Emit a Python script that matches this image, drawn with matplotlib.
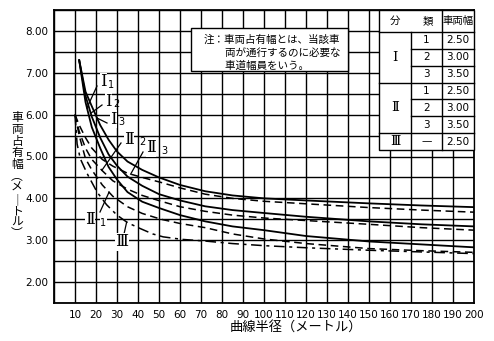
import matplotlib
matplotlib.use("Agg")
import matplotlib.pyplot as plt
from matplotlib.patches import Rectangle
import numpy as np

plt.rcParams['font.family'] = ['Noto Sans CJK JP', 'DejaVu Sans']

# 曲線半径 (m) と 車両占有幅 (m)
r_I = [12, 15, 18, 22, 26, 30, 35, 42, 50, 60, 72, 85, 100, 120, 150, 175, 200]
w_I1 = [7.3, 6.3, 5.7, 5.2, 4.75, 4.45, 4.15, 3.92, 3.77, 3.6, 3.45, 3.33, 3.24, 3.1, 2.97, 2.9, 2.83]
w_I2 = [7.3, 6.45, 5.95, 5.45, 5.05, 4.78, 4.52, 4.3, 4.1, 3.95, 3.81, 3.72, 3.65, 3.56, 3.45, 3.38, 3.33]
w_I3 = [7.3, 6.55, 6.2, 5.75, 5.4, 5.12, 4.88, 4.68, 4.5, 4.32, 4.17, 4.07, 4.0, 3.95, 3.88, 3.83, 3.79]

r_II = [10, 12, 15, 18, 23, 28, 35, 42, 51, 60, 72, 85, 100, 120, 150, 175, 200]
w_II1 = [6.0, 5.5, 4.95, 4.68, 4.32, 4.05, 3.8, 3.64, 3.5, 3.4, 3.3, 3.15, 3.03, 2.92, 2.8, 2.75, 2.71]
w_II2 = [6.0, 5.6, 5.2, 4.93, 4.66, 4.42, 4.22, 4.07, 3.93, 3.8, 3.69, 3.6, 3.53, 3.47, 3.38, 3.3, 3.24]
w_II3 = [6.0, 5.75, 5.45, 5.2, 4.93, 4.77, 4.6, 4.5, 4.38, 4.25, 4.1, 4.0, 3.93, 3.87, 3.78, 3.72, 3.67]

r_III = [10, 11, 12.5, 15.7, 20.5, 25, 30, 35, 41, 47, 52, 61, 72, 85, 100, 120, 150, 175, 200]
w_III = [6.0, 5.3, 4.95, 4.6, 4.15, 3.85, 3.6, 3.42, 3.28, 3.15, 3.08, 3.02, 2.98, 2.92, 2.87, 2.82, 2.76, 2.72, 2.68]

x_ticks = list(range(0, 201, 10))
y_ticks = [1.5 + 0.5 * i for i in range(15)]

table_rows = [("1", "2.50"), ("2", "3.00"), ("3", "3.50"),
              ("1", "2.50"), ("2", "3.00"), ("3", "3.50"), ("—", "2.50")]

W, H = 494, 341
fig = plt.figure(figsize=(W / 100, H / 100), dpi=100)
L, R, T, B = 54, 474, 10, 303
ax = fig.add_axes([L / W, 1 - B / H, (R - L) / W, (B - T) / H])

solid = dict(color="black", lw=1.3, zorder=3)
ax.plot(r_I, w_I1, **solid)
ax.plot(r_I, w_I2, **solid)
ax.plot(r_I, w_I3, **solid)
dash = dict(color="black", lw=1.1, ls=(0, (5, 3)), zorder=3)
ax.plot(r_II, w_II1, **dash)
ax.plot(r_II, w_II2, **dash)
ax.plot(r_II, w_II3, **dash)
ax.plot(r_III, w_III, color="black", lw=1.1, ls=(0, (7, 3, 2, 3)), zorder=3)

ax.set_xlim(0, 200)
ax.set_ylim(1.5, 8.5)
ax.set_xticks(x_ticks)
ax.set_xticklabels([str(v) if v > 0 else "" for v in x_ticks], fontsize=7.5, family="DejaVu Sans")
ax.set_yticks(y_ticks)
ax.set_yticklabels([f"{v:.2f}" if v == int(v) and 2 <= v <= 8 else "" for v in y_ticks],
                   fontsize=7.5, family="DejaVu Sans")
ax.tick_params(length=0)
ax.tick_params(axis="x", pad=5)
ax.tick_params(axis="y", pad=4)
ax.grid(color="black", lw=1.0)
ax.set_axisbelow(True)
for s in ax.spines.values():
    s.set_linewidth(1.3)

# overlay in pixel coordinates for labels, note and table
ov = fig.add_axes([0, 0, 1, 1], facecolor="none")
ov.set_xlim(0, W)
ov.set_ylim(H, 0)
ov.axis("off")

roman = ["DejaVu Serif", "Noto Sans CJK JP"]


def to_px(r, w):
    return L + r / 200 * (R - L), B - (w - 1.5) / 7.0 * (B - T)


def curve_label(num, sub, lx, ly, r_pt, rs, ws):
    px, py = to_px(r_pt, np.interp(r_pt, rs, ws))
    ov.plot([lx - 3, px], [ly + 4, py], color="black", lw=0.9)
    t = ov.text(lx, ly, num, fontsize=12, ha="left", va="center", family=roman)
    t.set_bbox(dict(facecolor="white", edgecolor="none", pad=0.3))
    ov.text(lx + (8 if num == "Ⅰ" else 15), ly + 3, sub, fontsize=7, ha="left",
            va="center", family="DejaVu Sans")


curve_label("Ⅰ", "1", 100, 82, 15.7, r_I, w_I1)
curve_label("Ⅰ", "2", 105, 101, 17.5, r_I, w_I2)
curve_label("Ⅰ", "3", 110, 119, 20.5, r_I, w_I3)
curve_label("Ⅱ", "2", 124, 139, 22.8, r_II, w_II2)
curve_label("Ⅱ", "3", 146, 148, 36.5, r_II, w_II3)

# II1 and III labels below curves
px, py = to_px(26.2, np.interp(26.2, r_II, w_II1))
ov.plot([100, px], [212, py], color="black", lw=0.9)
ov.text(85, 220, "Ⅱ", fontsize=12, ha="left", va="center", family=roman,
        bbox=dict(facecolor="white", edgecolor="none", pad=0.3))
ov.text(100, 223, "1", fontsize=7, ha="left", va="center", family="DejaVu Sans",
        bbox=dict(facecolor="white", edgecolor="none", pad=0.3))
px, py = to_px(34.6, np.interp(34.6, r_III, w_III))
ov.plot([124, px], [234, py], color="black", lw=0.9)
ov.text(122, 242, "Ⅲ", fontsize=12, ha="center", va="center", family=roman,
        bbox=dict(facecolor="white", edgecolor="none", pad=0.3))

# axis titles
ov.text(296, 327, "曲線半径（メートル）", fontsize=9.5, ha="center", va="center")
ylab = ["車", "両", "占", "有", "幅", "︵", "メ", "｜", "ト", "ル", "︶"]
for i, ch in enumerate(ylab):
    ov.text(17, 118 + i * 11.6, ch, fontsize=8.5, ha="center", va="center")

# note box
ov.add_patch(Rectangle((191, 28), 157, 43, facecolor="white", edgecolor="black", lw=1.0, zorder=4))
note = ["注：車両占有幅とは、当該車", "　　両が通行するのに必要な", "　　車道幅員をいう。"]
for i, line in enumerate(note):
    ov.text(204, 40 + i * 13, line, fontsize=7.6, ha="left", va="center", zorder=5)

# table
cx = [379, 411, 442, 474]
ty = [10, 32]
rh = (150 - 32) / 7
ty += [32 + rh * (i + 1) for i in range(7)]
ov.add_patch(Rectangle((cx[0], ty[0]), cx[3] - cx[0], ty[-1] - ty[0], facecolor="white",
                       edgecolor="black", lw=1.0, zorder=4))
lk = dict(color="black", lw=1.0, zorder=5)
ov.plot([cx[0], cx[3]], [ty[1], ty[1]], **lk)
ov.plot([cx[1], cx[1]], [ty[1], ty[-1]], **lk)
ov.plot([cx[2], cx[2]], [ty[0], ty[-1]], **lk)
for i in range(2, 8):
    x0 = cx[0] if i in (4, 7) else cx[1]
    ov.plot([x0, cx[3]], [ty[i], ty[i]], **lk)
ov.text(395, 21, "分", fontsize=7.5, ha="center", va="center", zorder=6)
ov.text(428, 21, "類", fontsize=7.5, ha="center", va="center", zorder=6)
ov.text(458, 21, "車両幅", fontsize=7.5, ha="center", va="center", zorder=6)
ov.text(395, (ty[1] + ty[4]) / 2, "Ⅰ", fontsize=9.5, ha="center", va="center", family=roman, zorder=6)
ov.text(395, (ty[4] + ty[7]) / 2, "Ⅱ", fontsize=9.5, ha="center", va="center", family=roman, zorder=6)
ov.text(395, (ty[7] + ty[8]) / 2, "Ⅲ", fontsize=9.5, ha="center", va="center", family=roman, zorder=6)
for i, (k, v) in enumerate(table_rows):
    yc = (ty[i + 1] + ty[i + 2]) / 2
    ov.text((cx[1] + cx[2]) / 2, yc, k, fontsize=7.5, ha="center", va="center",
            family="DejaVu Sans", zorder=6)
    ov.text((cx[2] + cx[3]) / 2, yc, v, fontsize=7.5, ha="center", va="center",
            family="DejaVu Sans", zorder=6)

fig.savefig("out.png", dpi=100)
